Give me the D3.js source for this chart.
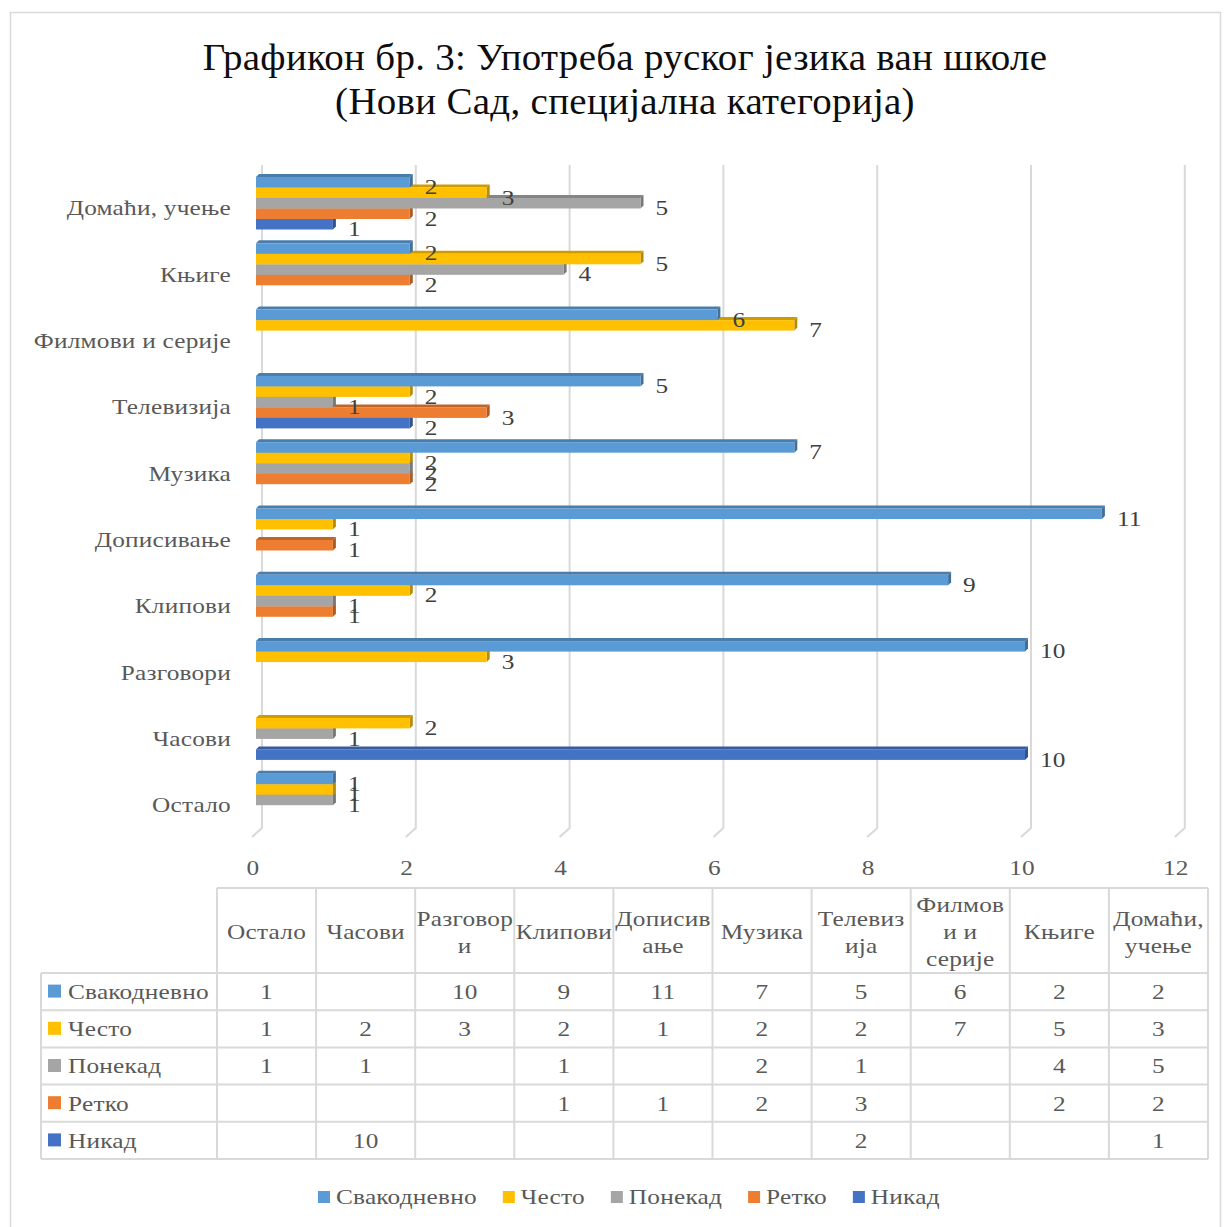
<!DOCTYPE html>
<html><head><meta charset="utf-8">
<script src="https://cdn.jsdelivr.net/npm/d3@7"></script>
<style>body{margin:0;background:#fff} svg{display:block}</style>
</head><body><svg id="c" width="1229" height="1227"></svg>
<script>
const titleLines = ["Графикон бр. 3: Употреба руског језика ван школе", "(Нови Сад, специјална категорија)"];
const categories = ["Остало", "Часови", "Разговори", "Клипови", "Дописивање", "Музика", "Телевизија", "Филмови и серије", "Књиге", "Домаћи, учење"];
const headerLines = [["Остало"], ["Часови"], ["Разговор", "и"], ["Клипови"], ["Дописив", "ање"], ["Музика"], ["Телевиз", "ија"], ["Филмов", "и и", "серије"], ["Књиге"], ["Домаћи,", "учење"]];
const seriesNames = ["Свакодневно", "Често", "Понекад", "Ретко", "Никад"];
const seriesColors = ["#5B9BD5", "#FFC000", "#A5A5A5", "#ED7D31", "#4472C4"];
const daily     = [1, null, 10, 9, 11, 7, 5, 6, 2, 2];
const often     = [1, 2, 3, 2, 1, 2, 2, 7, 5, 3];
const sometimes = [1, 1, null, 1, null, 2, 1, null, 4, 5];
const rarely    = [null, null, null, 1, 1, 2, 3, null, 2, 2];
const never     = [null, 10, null, null, null, null, 2, null, null, 1];
const xTicks = [0, 2, 4, 6, 8, 10, 12];

const seriesValues = [daily, often, sometimes, rarely, never];
const FONT = "'Liberation Serif', serif";
const SX = 1.15;       // horizontal widening to approximate the reference's wider serif face
const FS = 22;
const svg = d3.select("#c").style("font-family", FONT);

function txt(g, x, y, str, o = {}) {
  const sx = o.sx || SX;
  return g.append("text")
    .attr("transform", `translate(${x},${y}) scale(${sx},1)`)
    .attr("text-anchor", o.anchor || "start")
    .attr("dominant-baseline", "central")
    .attr("letter-spacing", o.ls != null ? o.ls : 0.2)
    .attr("font-size", o.size || FS)
    .attr("fill", o.fill || "#595959")
    .text(str);
}

// outer border
svg.append("rect").attr("x", 10.5).attr("y", 12.5).attr("width", 1210).attr("height", 1230)
  .attr("fill", "#fff").attr("stroke", "#D9D9D9").attr("stroke-width", 1.5);

// title
titleLines.forEach((t, i) => txt(svg, 625, 57 + i * 44, t, { anchor: "middle", size: 38, sx: 1.025, fill: "#0d0d0d", ls: 0.3 }));

const x = d3.scaleLinear().domain([0, 12]).range([256, 256 + 12 * 76.9]);
const y = d3.scaleBand().domain(categories.slice().reverse()).range([170, 170 + 66.3 * categories.length]);
const yS = d3.scaleBand().domain(seriesNames).range([7, 59.5]);
const color = d3.scaleOrdinal().domain(seriesNames).range(seriesColors);

// gridlines (3D wall)
const grid = svg.append("g");
xTicks.forEach(v => {
  grid.append("path")
    .attr("d", `M${x(v) + 6},165 L${x(v) + 6},828 L${x(v) - 4},837`)
    .attr("fill", "none").attr("stroke", "#D9D9D9").attr("stroke-width", 2);
});
const gx = svg.append("g");
xTicks.forEach(v => txt(gx, x(v) - 3, 868, v, { anchor: "middle" }));

// category labels
const gc = svg.append("g");
categories.forEach(c => txt(gc, 231, y(c) + 38, c, { anchor: "end" }));

// bars
const bars = [];
categories.forEach((c, ci) => {
  seriesNames.forEach((s, si) => {
    const v = seriesValues[si][ci];
    if (v != null) bars.push({ c, s, v });
  });
});
const drawOrder = bars.slice().sort((a, b) => seriesNames.indexOf(b.s) - seriesNames.indexOf(a.s));
const gb = svg.append("g");
const h = yS.bandwidth();
const d3d = 3;
drawOrder.forEach(b => {
  const x0 = x(0), x1 = x(b.v), yy = y(b.c) + yS(b.s);
  const base = d3.color(color(b.s));
  const g = gb.append("g");
  g.append("path").attr("d", `M${x0},${yy} L${x0 + d3d},${yy - d3d} L${x1 + d3d},${yy - d3d} L${x1},${yy} Z`)
    .attr("fill", base.darker(0.6));
  g.append("path").attr("d", `M${x1},${yy} L${x1 + d3d},${yy - d3d} L${x1 + d3d},${yy + h - d3d} L${x1},${yy + h} Z`)
    .attr("fill", base.darker(0.9));
  g.append("rect").attr("x", x0).attr("y", yy).attr("width", x1 - x0).attr("height", h)
    .attr("fill", base);
});
// data labels
const gl = svg.append("g");
bars.forEach(b => txt(gl, x(b.v) + 15, y(b.c) + yS(b.s) + h / 2 + 4.5, b.v, { fill: "#404040" }));

// data table
const tx = d3.scaleBand().domain(categories).range([217, 1208]);
const rowTop = 973, rowH = 37.2, headTop = 888;
const tb = svg.append("g");
const lineStyle = sel => sel.attr("stroke", "#D9D9D9").attr("stroke-width", 2).attr("fill", "none");
tb.append("line").attr("x1", 217).attr("x2", 1208).attr("y1", headTop).attr("y2", headTop).call(lineStyle);
for (let r = 0; r <= seriesNames.length; r++) {
  tb.append("line").attr("x1", 41).attr("x2", 1208).attr("y1", rowTop + r * rowH).attr("y2", rowTop + r * rowH).call(lineStyle);
}
const tableBottom = rowTop + seriesNames.length * rowH;
tb.append("line").attr("x1", 41).attr("x2", 41).attr("y1", rowTop).attr("y2", tableBottom).call(lineStyle);
categories.forEach(c => {
  tb.append("line").attr("x1", tx(c)).attr("x2", tx(c)).attr("y1", headTop).attr("y2", tableBottom).call(lineStyle);
});
tb.append("line").attr("x1", 1208).attr("x2", 1208).attr("y1", headTop).attr("y2", tableBottom).call(lineStyle);
// header text
categories.forEach((c, ci) => {
  const lines = headerLines[ci];
  lines.forEach((ln, li) => {
    txt(tb, tx(c) + tx.bandwidth() / 2, 932 + (li - (lines.length - 1) / 2) * 27, ln, { anchor: "middle" });
  });
});
// rows
seriesNames.forEach((s, si) => {
  const cy = rowTop + si * rowH + rowH / 2;
  tb.append("rect").attr("x", 48).attr("y", cy - 7).attr("width", 13).attr("height", 13).attr("fill", color(s));
  txt(tb, 68, cy, s);
  categories.forEach((c, ci) => {
    const v = seriesValues[si][ci];
    if (v == null) return;
    txt(tb, tx(c) + tx.bandwidth() / 2, cy, v, { anchor: "middle" });
  });
});

// legend
const lg = svg.append("g");
let lx = 318;
seriesNames.forEach(s => {
  lg.append("rect").attr("x", lx).attr("y", 1191).attr("width", 12).attr("height", 12).attr("fill", color(s));
  const t = txt(lg, lx + 18, 1197, s);
  lx += 18 + t.node().getComputedTextLength() * SX + 26;
});
</script></body></html>
